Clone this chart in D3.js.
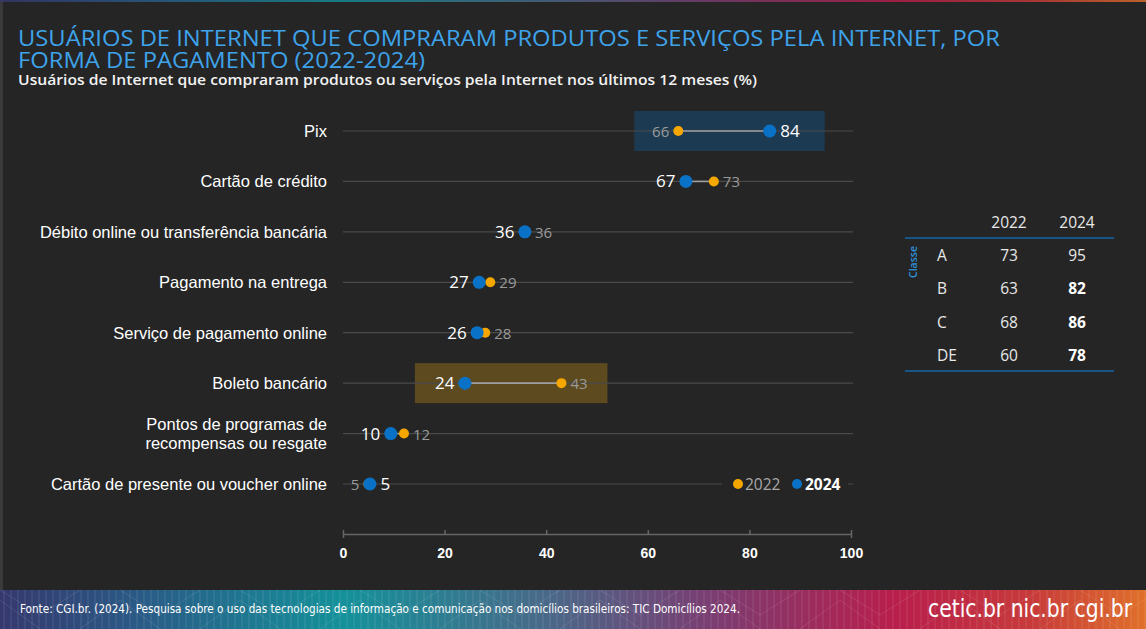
<!DOCTYPE html>
<html><head><meta charset="utf-8">
<script src="https://cdn.jsdelivr.net/npm/d3@7"></script>
<style>html,body{margin:0;padding:0;background:#252525;overflow:hidden}</style>
</head><body>
<svg id="c" width="1146" height="629"></svg>
<script>
const categories = ["Pix","Cartão de crédito","Débito online ou transferência bancária","Pagamento na entrega","Serviço de pagamento online","Boleto bancário","Pontos de programas de|recompensas ou resgate","Cartão de presente ou voucher online"];
const values2022 = [66,73,36,29,28,43,12,5];
const values2024 = [84,67.5,35.8,26.8,26.4,24,9.4,5.3];
const labels2022 = ["66","73","36","29","28","43","12","5"];
const labels2024 = ["84","67","36","27","26","24","10","5"];
const highlightRows = ["Pix","Boleto bancário"];
const xTicks = [0,20,40,60,80,100];
const tableClasses = ["A","B","C","DE"];
const table2022 = [73,63,68,60];
const table2024 = [95,82,86,78];
const table2024Bold = [false,true,true,true];
const titleLines = ["USUÁRIOS DE INTERNET QUE COMPRARAM PRODUTOS E SERVIÇOS PELA INTERNET, POR","FORMA DE PAGAMENTO (2022-2024)"];
const subtitle = "Usuários de Internet que compraram produtos ou serviços pela Internet nos últimos 12 meses (%)";
const source = "Fonte: CGI.br. (2024). Pesquisa sobre o uso das tecnologias de informação e comunicação nos domicílios brasileiros: TIC Domicílios 2024.";

const svg = d3.select("#c");
const W=1146,H=629;
const C2022="#f5a700", C2024="#0a72c6";
const defs = svg.append("defs");

svg.append("rect").attr("width",W).attr("height",H).attr("fill","#252525");
svg.append("rect").attr("x",0).attr("y",0).attr("width",3).attr("height",590).attr("fill","#3a3a3a");

const g1 = defs.append("linearGradient").attr("id","band").attr("x1",0).attr("x2",1);
[["0%","#35386e"],["12%","#2a5a86"],["30%","#14919a"],["48%","#4a6888"],["62%","#7a3d72"],["78%","#b81e4c"],["90%","#c73a3a"],["100%","#e0702a"]].forEach(s=>g1.append("stop").attr("offset",s[0]).attr("stop-color",s[1]));
svg.append("rect").attr("x",0).attr("y",0).attr("width",W).attr("height",2).attr("fill","url(#band)").attr("opacity",0.8);
svg.append("rect").attr("x",0).attr("y",590).attr("width",W).attr("height",39).attr("fill","url(#band)");
const stripes = svg.append("g").attr("opacity",0.12);
for(let x=4;x<W;x+=7){stripes.append("line").attr("x1",x).attr("x2",x).attr("y1",590).attr("y2",629).attr("stroke","#fff").attr("stroke-width",1);}
const zig = svg.append("g").attr("opacity",0.1).attr("fill","none").attr("stroke","#fff");
for(let x=-40;x<W;x+=120){zig.append("path").attr("d",`M${x},629 L${x+40},600 L${x+80},629 M${x+40},590 L${x+80},615 L${x+120},590`);}

svg.append("text").attr("x",20).attr("y",613).attr("fill","#fff").attr("font-family","'Liberation Sans Narrow','DejaVu Sans Condensed',sans-serif").attr("font-size",11.5).attr("textLength",720).attr("lengthAdjust","spacingAndGlyphs").text(source);
svg.append("text").attr("x",928).attr("y",617).attr("fill","#fff").attr("font-family","'DejaVu Sans Condensed','Liberation Sans Narrow',sans-serif").attr("font-size",24).attr("textLength",204).attr("lengthAdjust","spacingAndGlyphs").text("cetic.br nic.br cgi.br");

const tf = "'Open Sans','Noto Sans',sans-serif";
svg.append("text").attr("x",18).attr("y",46).attr("fill","#3ea3ea").attr("font-family",tf).attr("font-size",21.5).attr("textLength",982).attr("lengthAdjust","spacingAndGlyphs").text(titleLines[0]);
svg.append("text").attr("x",18).attr("y",68).attr("fill","#3ea3ea").attr("font-family",tf).attr("font-size",21.5).attr("textLength",407).attr("lengthAdjust","spacingAndGlyphs").text(titleLines[1]);
svg.append("text").attr("x",18).attr("y",85).attr("fill","#f2f2f2").attr("font-family",tf).attr("font-weight","600").attr("font-size",14).attr("textLength",739).attr("lengthAdjust","spacingAndGlyphs").text(subtitle);

const x = d3.scaleLinear().domain([0,100]).range([343,851]);
const y = d3.scalePoint().domain(categories).range([131,484]);

highlightRows.forEach(r=>{
  const i = categories.indexOf(r);
  const up = values2024[i]>values2022[i];
  const lo = Math.min(values2022[i],values2024[i]), hi = Math.max(values2022[i],values2024[i]);
  const padL = up ? 44 : 50, padR = up ? 55 : 46;
  svg.append("rect").attr("x",x(lo)-padL).attr("y",y(r)-20).attr("width",x(hi)-x(lo)+padL+padR).attr("height",40).attr("fill",up?"#1d3a53":"#5d4a1f");
});
svg.append("g").selectAll("line").data(categories).join("line")
  .attr("x1",343).attr("x2",853).attr("y1",d=>y(d)).attr("y2",d=>y(d))
  .attr("stroke","#4a4a4a").attr("stroke-width",1.2);

const lab = svg.append("g").attr("font-family","'Liberation Sans',Arial,sans-serif").attr("font-size",16.5).attr("fill","#fff").attr("text-anchor","end");
categories.forEach(c=>{
  const parts = c.split("|");
  const t = lab.append("text").attr("x",327).attr("y",y(c)+6-(parts.length-1)*9.5);
  parts.forEach((p,k)=>t.append("tspan").attr("x",327).attr("dy",k?19:0).text(p));
});

const rows = categories.map((c,i)=>({c,a:values2022[i],b:values2024[i],la:labels2022[i],lb:labels2024[i]}));
svg.append("g").selectAll("line").data(rows).join("line")
  .attr("x1",d=>x(d.a)).attr("x2",d=>x(d.b)).attr("y1",d=>y(d.c)).attr("y2",d=>y(d.c))
  .attr("stroke","#a0a0a0").attr("stroke-width",1.6);
svg.append("g").selectAll("circle").data(rows).join("circle")
  .attr("cx",d=>x(d.a)).attr("cy",d=>y(d.c)).attr("r",5).attr("fill",C2022);
svg.append("g").selectAll("circle").data(rows).join("circle")
  .attr("cx",d=>x(d.b)).attr("cy",d=>y(d.c)).attr("r",6.5).attr("fill",C2024);

const vf = "'Open Sans','Noto Sans',sans-serif";
rows.forEach(d=>{
  const leftIs2024 = d.b < d.a;
  const yy = y(d.c)+6;
  const put = (val,txt,is2024,side)=>{
    const r = is2024?6.5:5;
    svg.append("text").attr("x", side<0 ? x(val)-r-4 : x(val)+r+4).attr("y",yy)
      .attr("text-anchor", side<0?"end":"start")
      .attr("font-family",vf).attr("font-size",is2024?17:15)
      .attr("fill",is2024?"#ffffff":"#9a9a9a").text(txt);
  };
  if(leftIs2024){ put(d.b,d.lb,true,-1); put(d.a,d.la,false,1); }
  else { put(d.a,d.la,false,-1); put(d.b,d.lb,true,1); }
});

const ly = y(categories[categories.length-1]);
svg.append("rect").attr("x",722).attr("y",ly-10).attr("width",126).attr("height",20).attr("fill","#252525");
svg.append("circle").attr("cx",738).attr("cy",ly).attr("r",5).attr("fill",C2022);
svg.append("text").attr("x",745).attr("y",ly+6).attr("font-family",vf).attr("font-size",15.5).attr("fill","#a8a8a8").text("2022");
svg.append("circle").attr("cx",797).attr("cy",ly).attr("r",5).attr("fill",C2024);
svg.append("text").attr("x",805).attr("y",ly+6).attr("font-family",vf).attr("font-size",15.5).attr("font-weight","bold").attr("fill","#fff").text("2024");

const ax = svg.append("g").attr("transform","translate(0,534)").call(d3.axisBottom(x).tickValues(xTicks).tickSize(4).tickSizeOuter(4).tickFormat(d3.format("d")));
ax.select(".domain").attr("stroke","#666").attr("stroke-width",1.5);
ax.selectAll(".tick line").attr("stroke","#666").attr("stroke-width",1.5).attr("y1",-4).attr("y2",0);
ax.selectAll("text").attr("fill","#fff").attr("font-family","'Liberation Sans',Arial,sans-serif").attr("font-size",14).attr("font-weight","bold").attr("dy","1.2em");

const tg = svg.append("g").attr("font-family",vf).attr("fill","#e8e8e8").attr("font-size",15.5);
const cx22 = 1009, cx24 = 1077;
tg.append("text").attr("x",cx22).attr("y",228).attr("text-anchor","middle").text("2022");
tg.append("text").attr("x",cx24).attr("y",228).attr("text-anchor","middle").text("2024");
svg.append("line").attr("x1",905).attr("x2",1114).attr("y1",238).attr("y2",238).attr("stroke","#1566a8").attr("stroke-width",1.5);
svg.append("line").attr("x1",905).attr("x2",1114).attr("y1",371).attr("y2",371).attr("stroke","#1566a8").attr("stroke-width",1.5);
const ty = d3.scalePoint().domain(tableClasses).range([261,361]);
tableClasses.forEach((k,i)=>{
  tg.append("text").attr("x",937).attr("y",ty(k)).text(k);
  tg.append("text").attr("x",cx22).attr("y",ty(k)).attr("text-anchor","middle").text(table2022[i]);
  tg.append("text").attr("x",cx24).attr("y",ty(k)).attr("text-anchor","middle").attr("font-weight",table2024Bold[i]?"bold":"normal").attr("fill",table2024Bold[i]?"#fff":"#e8e8e8").text(table2024[i]);
});
svg.append("text").attr("transform","translate(917,262) rotate(-90)").attr("text-anchor","middle").attr("font-family",vf).attr("font-size",10.5).attr("fill","#2f8fd8").attr("font-weight","600").text("Classe");
</script>
</body></html>
